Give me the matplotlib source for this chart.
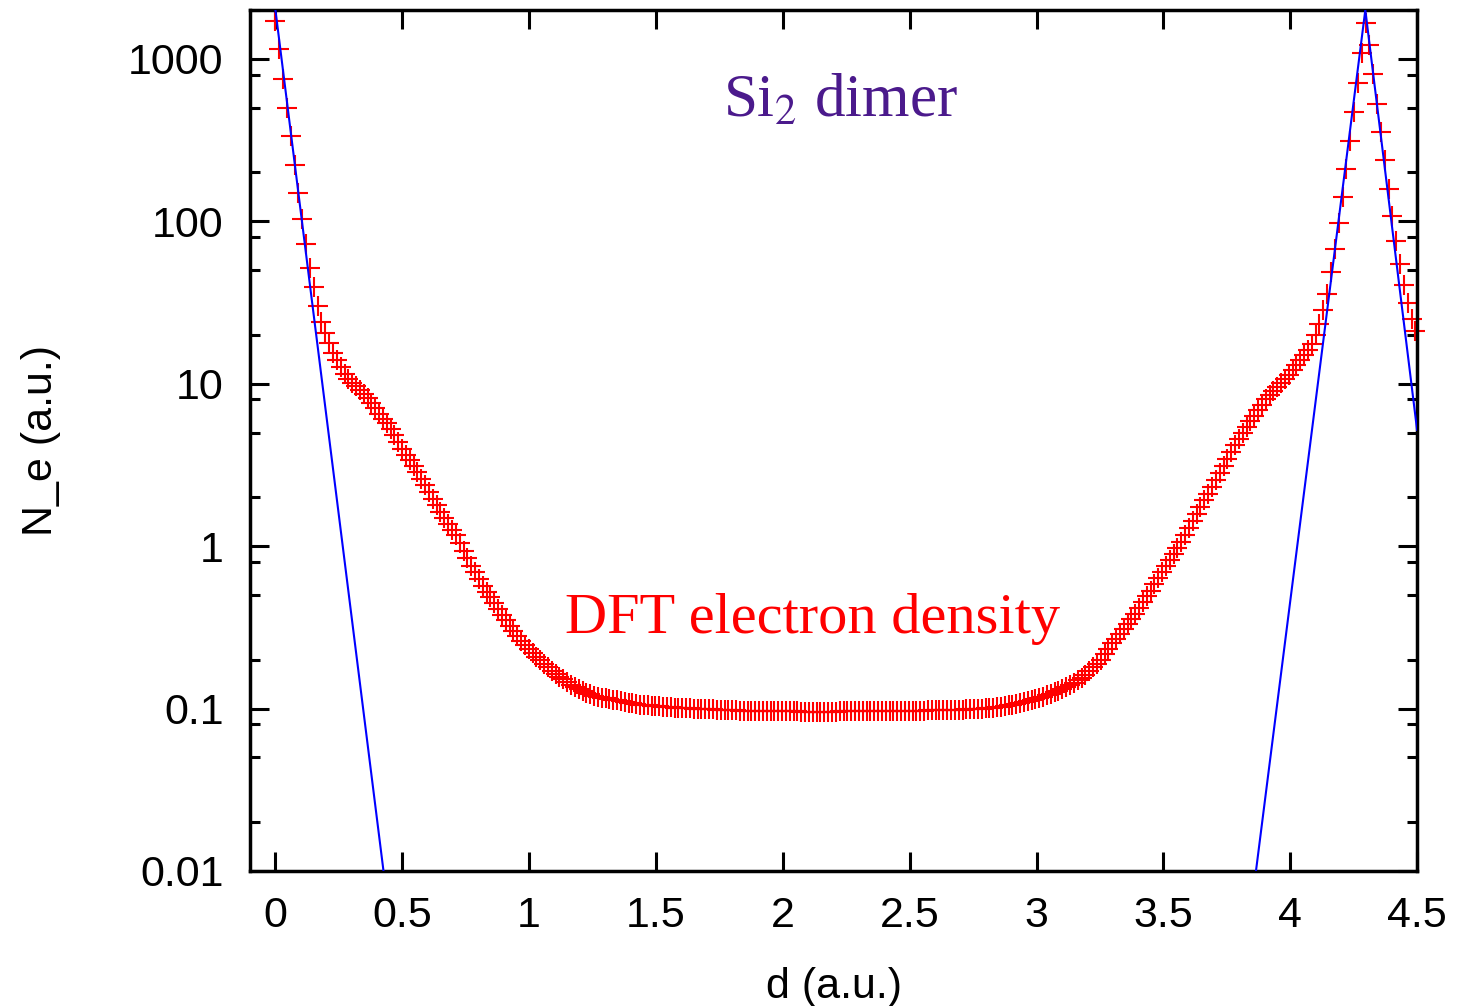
import numpy as np
import matplotlib
matplotlib.use("Agg")
import matplotlib.pyplot as plt
from matplotlib.ticker import LogLocator, NullFormatter, FuncFormatter, MultipleLocator

# DFT density along the Si-Si axis, log10(N_e), one value per grid point
d_step = 0.01513
log_ne = [
    3.236, 3.060, 2.877, 2.700, 2.522, 2.347, 2.177, 2.015, 1.859, 1.715,
    1.594, 1.481, 1.382, 1.311, 1.250, 1.190, 1.146, 1.104, 1.062, 1.030,
    1.007, 0.985, 0.961, 0.937, 0.912, 0.880, 0.849, 0.815, 0.785, 0.757,
    0.724, 0.683, 0.642, 0.600, 0.564, 0.529, 0.494, 0.457, 0.416, 0.375,
    0.334, 0.293, 0.252, 0.211, 0.171, 0.136, 0.101, 0.066, 0.020, -0.028,
    -0.076, -0.121, -0.162, -0.204, -0.245, -0.281, -0.316, -0.351, -0.386, -0.421,
    -0.457, -0.492, -0.523, -0.553, -0.583, -0.610, -0.633, -0.657, -0.680, -0.702,
    -0.725, -0.747, -0.770, -0.787, -0.804, -0.821, -0.838, -0.855, -0.869, -0.882,
    -0.894, -0.904, -0.913, -0.921, -0.927, -0.932, -0.936, -0.940, -0.945, -0.950,
    -0.954, -0.959, -0.964, -0.968, -0.973, -0.977, -0.979, -0.981, -0.983, -0.985,
    -0.987, -0.989, -0.991, -0.993, -0.994, -0.995, -0.997, -0.998, -0.999, -1.000,
    -1.001, -1.002, -1.003, -1.004, -1.005, -1.006, -1.007, -1.008, -1.009, -1.010,
    -1.011, -1.012, -1.013, -1.013, -1.014, -1.014, -1.015, -1.015, -1.016, -1.016,
    -1.017, -1.017, -1.017, -1.018, -1.018, -1.018, -1.018, -1.019, -1.019, -1.019,
    -1.019, -1.019, -1.019, -1.019, -1.019, -1.019, -1.019, -1.018, -1.018, -1.018,
    -1.018, -1.018, -1.017, -1.017, -1.017, -1.017, -1.016, -1.016, -1.016, -1.015,
    -1.015, -1.015, -1.015, -1.014, -1.014, -1.013, -1.013, -1.013, -1.012, -1.012,
    -1.011, -1.011, -1.010, -1.010, -1.010, -1.009, -1.009, -1.008, -1.007, -1.006,
    -1.005, -1.004, -1.003, -1.001, -1.000, -0.998, -0.996, -0.994, -0.991, -0.988,
    -0.984, -0.980, -0.976, -0.971, -0.966, -0.960, -0.954, -0.948, -0.941, -0.934,
    -0.926, -0.918, -0.910, -0.900, -0.890, -0.879, -0.869, -0.856, -0.841, -0.826,
    -0.812, -0.794, -0.770, -0.747, -0.723, -0.700, -0.665, -0.631, -0.598, -0.569,
    -0.539, -0.510, -0.480, -0.451, -0.415, -0.380, -0.344, -0.309, -0.274, -0.235,
    -0.197, -0.159, -0.120, -0.083, -0.046, -0.009, 0.028, 0.066, 0.109, 0.152,
    0.195, 0.238, 0.281, 0.323, 0.365, 0.407, 0.450, 0.493, 0.536, 0.579,
    0.621, 0.658, 0.695, 0.732, 0.769, 0.804, 0.837, 0.871, 0.904, 0.933,
    0.956, 0.979, 1.002, 1.026, 1.055, 1.084, 1.114, 1.144, 1.175, 1.206,
    1.246, 1.298, 1.370, 1.455, 1.555, 1.690, 1.830, 1.990, 2.150, 2.320,
    2.496, 2.670, 2.854, 3.035, 3.220, 3.086, 2.905, 2.723, 2.547, 2.375,
    2.200, 2.034, 1.878, 1.735, 1.605, 1.495, 1.398, 1.322,
]
ne = 10 ** np.array(log_ne)
d = np.arange(len(ne)) * d_step

# exponential fits near the two nuclei (straight lines on the log scale)
fit_left_d = [0.0, 0.426]
fit_left_ne = [2000, 0.01]
fit_right_d = [3.865, 4.296, 4.5]
fit_right_ne = [0.01, 2000, 5.2]

plt.rcParams["font.family"] = ["Liberation Sans", "DejaVu Sans"]
plt.rcParams["mathtext.fontset"] = "stix"

fig = plt.figure(figsize=(14.84, 10.06), dpi=100)
ax = fig.add_axes([0.1685, 0.1342, 0.7864, 0.8559])

ax.plot(d, ne, "+", color="red", ms=14, mew=1.5, clip_on=False, zorder=2)
ax.plot(fit_left_d, fit_left_ne, color="blue", lw=1.5, zorder=3)
ax.plot(fit_right_d, fit_right_ne, color="blue", lw=1.5, zorder=3)

ax.set_yscale("log")
ax.set_xlim(-0.1, 4.5)
ax.set_ylim(0.01, 2000)

ax.xaxis.set_major_locator(MultipleLocator(0.5))
ax.xaxis.set_major_formatter(FuncFormatter(lambda v, p: f"{v:g}"))
ax.yaxis.set_major_locator(LogLocator(base=10, numticks=20))
ax.yaxis.set_minor_locator(LogLocator(base=10, subs=(2.0, 5.0, 8.0), numticks=20))
ax.yaxis.set_major_formatter(FuncFormatter(lambda v, p: f"{v:g}"))
ax.yaxis.set_minor_formatter(NullFormatter())

ax.tick_params(which="both", direction="in", top=True, right=True, width=2.2)
ax.tick_params(which="major", length=14)
ax.tick_params(which="minor", length=7)
ax.tick_params(axis="y", which="major", pad=19, labelsize=31)
ax.tick_params(axis="x", which="major", pad=18, labelsize=31)
for s in ax.spines.values():
    s.set_linewidth(2.5)

ax.set_xlabel("d (a.u.)", fontsize=31, labelpad=22)
ax.set_ylabel("N_e (a.u.)", fontsize=31, labelpad=48)

ax.text(0.5056, 0.8757, "Si$_{2}$ dimer", transform=ax.transAxes, ha="center",
        va="baseline", fontsize=44, color="#4b1a8c", family="Liberation Serif")
ax.text(0.482, 0.2768, "DFT electron density", transform=ax.transAxes, ha="center",
        va="baseline", fontsize=42, color="red", family="Liberation Serif")

fig.savefig("out.png", dpi=100)
